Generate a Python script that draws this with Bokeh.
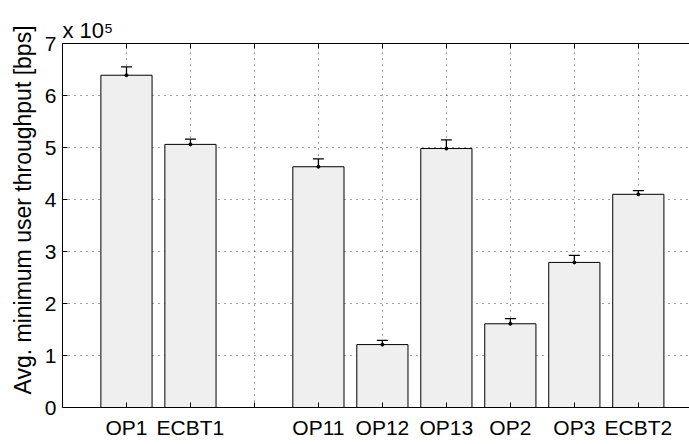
from bokeh.plotting import figure
from bokeh.models import (Range1d, FixedTicker, LinearAxis, Whisker, TeeHead,
                          ColumnDataSource, Title)
from bokeh.embed import file_html
from bokeh.resources import INLINE

# ---- data (values in bps) ----
categories = ["OP1", "ECBT1", "", "OP11", "OP12", "OP13", "OP2", "OP3", "ECBT2"]
throughput = [639000, 506000, None, 463000, 121000, 498000, 161000, 279000, 410000]
err = [16000, 10000, None, 15000, 8000, 16500, 10000, 13500, 7000]
y_ticks = [0, 100000, 200000, 300000, 400000, 500000, 600000, 700000]
y_tick_labels = ["0", "1", "2", "3", "4", "5", "6", "7"]
y_label = "Avg. minimum user throughput [bps]"
multiplier = "x 10\u2075"

FONT = "Liberation Sans"
FS = "21px"

xs, tops, lows, ups = [], [], [], []
for i, (c, v, e) in enumerate(zip(categories, throughput, err)):
    if v is None:
        continue
    xs.append(i + 1)
    tops.append(v)
    lows.append(v - e)
    ups.append(v + e)
src = ColumnDataSource(dict(x=xs, top=tops, lower=lows, upper=ups))

positions = list(range(1, len(categories) + 1))

p = figure(width=689, height=444, output_backend="svg", toolbar_location=None,
           x_range=Range1d(0, 9.8), y_range=Range1d(0, 700000),
           min_border_left=62, min_border_right=0, min_border_top=43,
           min_border_bottom=37, x_axis_location=None, y_axis_location=None)
p.outline_line_color = None
p.background_fill_color = "white"

# grids
p.xgrid.ticker = FixedTicker(ticks=positions)
p.ygrid.ticker = FixedTicker(ticks=y_ticks)
for g in (p.xgrid, p.ygrid):
    g.grid_line_color = "#444444"
    g.grid_line_dash = "1 5"
    g.grid_line_width = 1

# bars
p.vbar(x="x", top="top", width=0.8, source=src, fill_color="#efefef",
       line_color="black", line_width=1)

# error bars
wh = Whisker(base="x", upper="upper", lower="lower", source=src,
             line_color="black", line_width=1.3,
             upper_head=TeeHead(size=11, line_color="black", line_width=1.3),
             lower_head=TeeHead(size=11, line_color="black", line_width=1.3))
p.add_layout(wh)
p.scatter(x="x", y="top", source=src, size=3, color="black")

# axes
xb = LinearAxis(ticker=FixedTicker(ticks=positions),
                major_label_overrides={pos: c for pos, c in zip(positions, categories)})
xb.major_tick_in = 5
xb.major_tick_out = 0
xb.minor_tick_line_color = None
xb.major_label_text_font = FONT
xb.major_label_text_font_size = FS
xb.major_label_text_color = "black"
xb.major_label_standoff = 8
xb.axis_line_color = "black"
p.add_layout(xb, "below")

xt = LinearAxis(ticker=FixedTicker(ticks=positions))
xt.major_tick_in = 5
xt.major_tick_out = 0
xt.minor_tick_line_color = None
xt.major_label_text_font_size = "0px"
xt.major_label_text_color = None
xt.major_label_standoff = 0
p.add_layout(xt, "above")

yl = LinearAxis(ticker=FixedTicker(ticks=y_ticks),
                major_label_overrides={t: l for t, l in zip(y_ticks, y_tick_labels)})
yl.major_tick_in = 5
yl.major_tick_out = 0
yl.minor_tick_line_color = None
yl.major_label_text_font = FONT
yl.major_label_text_font_size = FS
yl.major_label_text_color = "black"
yl.major_label_standoff = 6
p.add_layout(yl, "left")

# y label as a side title (sits off-centre like the reference)
p.add_layout(Title(text=y_label, align="left", offset=13, text_font=FONT,
                   text_font_size="23px", text_font_style="normal",
                   text_color="black", standoff=11), "left")

# multiplier
p.add_layout(Title(text=multiplier, align="left", text_font=FONT, text_font_size="22px",
                   text_font_style="normal", text_color="black", standoff=2), "above")

open("out.html", "w").write(file_html(p, INLINE))
